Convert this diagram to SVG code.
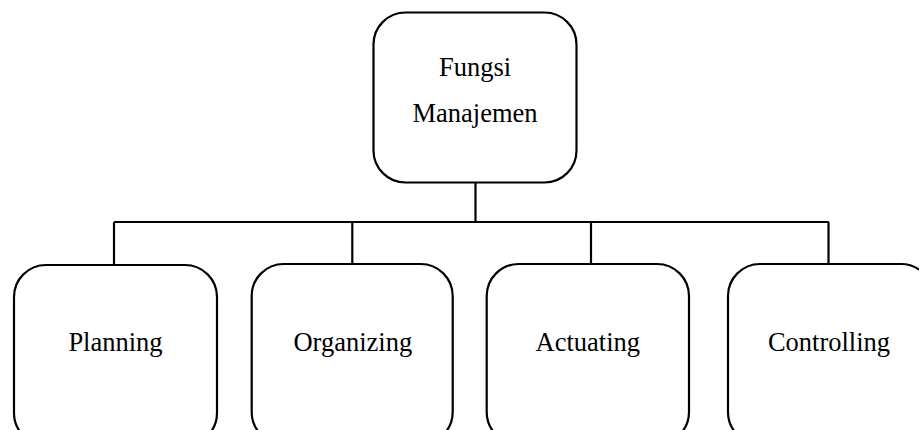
<svg xmlns="http://www.w3.org/2000/svg" width="919" height="430" viewBox="0 0 919 430">
<style>
.box{fill:#fff;stroke:#000;stroke-width:2.2}
.ln{fill:none;stroke:#000;stroke-width:2.2}
text{font-family:"Liberation Serif","Times New Roman",serif;font-size:26.5px;fill:#000;text-anchor:middle}
</style>
<rect width="919" height="430" fill="#fff"/>
<g id="connectors">
<line class="ln" x1="475.5" y1="183" x2="475.5" y2="222"/>
<line class="ln" x1="114" y1="222" x2="829" y2="222"/>
<line class="ln" x1="114" y1="222" x2="114" y2="265"/>
<line class="ln" x1="352.3" y1="222" x2="352.3" y2="264"/>
<line class="ln" x1="591" y1="222" x2="591" y2="264"/>
<line class="ln" x1="828.5" y1="222" x2="828.5" y2="264"/>
</g>
<g id="top"><rect class="box" x="373.5" y="12.5" width="203" height="170" rx="32"/>
<text x="475" y="76">Fungsi</text><text x="475" y="122">Manajemen</text></g>
<g id="planning"><rect class="box" x="14" y="265" width="203" height="180" rx="32"/><text x="115.5" y="351">Planning</text></g>
<g id="organizing"><rect class="box" x="251.7" y="264" width="201" height="180" rx="32"/><text x="352.8" y="351">Organizing</text></g>
<g id="actuating"><rect class="box" x="486.7" y="264" width="202.3" height="180" rx="32"/><text x="587.8" y="351">Actuating</text></g>
<g id="controlling"><rect class="box" x="728" y="264" width="205" height="180" rx="32"/><text x="829" y="351">Controlling</text></g>
</svg>
